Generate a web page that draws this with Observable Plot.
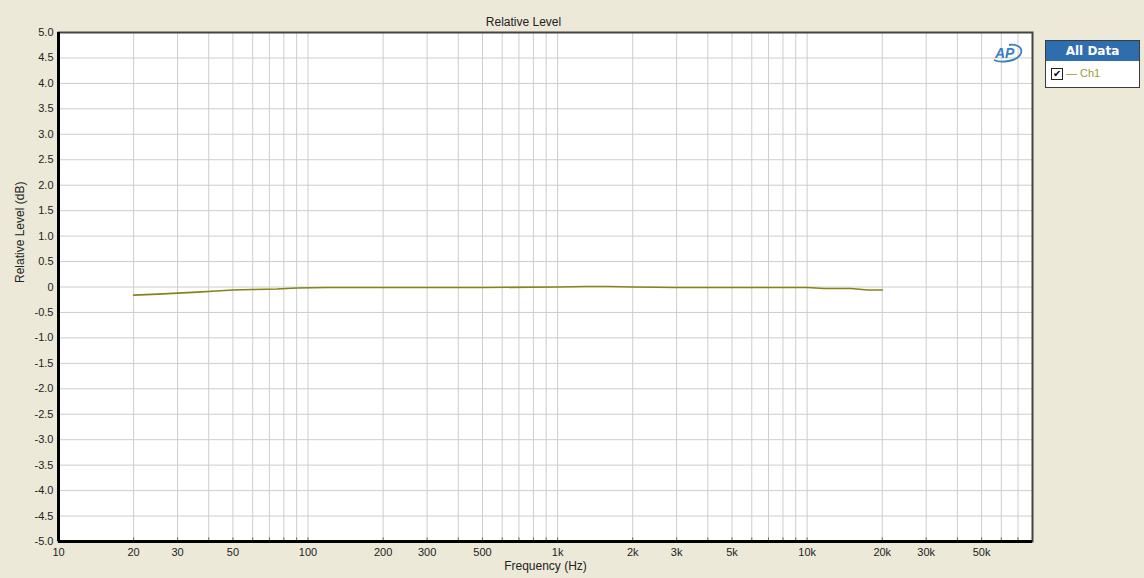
<!DOCTYPE html>
<html>
<head>
<meta charset="utf-8">
<script src="https://cdn.jsdelivr.net/npm/d3@7"></script>
<script src="https://cdn.jsdelivr.net/npm/@observablehq/plot@0.6"></script>
<style>
  html, body { margin: 0; padding: 0; background: #ECE9D8; }
  body { width: 1144px; height: 578px; position: relative; overflow: hidden; font-family: "Liberation Sans", Arial, sans-serif; }
  #chart { position: absolute; left: 0; top: 0; }
  #legend { position: absolute; left: 1045px; top: 40px; width: 93px; height: 46px; background: #fff; border: 1px solid #3c3c3c; box-sizing: content-box; }
  #legend .hdr { background: #2f6eae; color: #fff; font-family: Verdana, "DejaVu Sans", sans-serif; font-weight: bold; font-size: 12px; text-align: center; height: 20px; line-height: 20px; }
  #legend .row { position: relative; height: 26px; }
  #legend .cb { position: absolute; left: 5px; top: 7px; width: 10px; height: 10px; border: 1px solid #222; background: #fff; font-size: 10px; line-height: 10px; text-align: center; color: #000; }
  #legend .lbl { position: absolute; left: 20px; top: 6px; font-size: 11px; color: #9a9a30; font-family: "Liberation Sans", Arial, sans-serif; }
  #logo { position: absolute; left: 990px; top: 43px; }
</style>
</head>
<body>
<div id="chart"></div>
<svg id="logo" width="34" height="20" viewBox="0 0 34 20">
  <path d="M4 17 C 10 20, 28 19, 31 10 C 33 3, 24 1, 19 2" fill="none" stroke="#3a7fc0" stroke-width="1.8"/>
  <text x="5" y="15" font-family="Liberation Sans, Arial" font-style="italic" font-weight="bold" font-size="14" fill="#3a7fc0">AP</text>
</svg>
<div id="legend">
  <div class="hdr">All Data</div>
  <div class="row"><div class="cb">✔</div><div class="lbl">— Ch1</div></div>
</div>
<script>
// Data
const freqs  = [20, 25, 30, 36, 43, 50, 60, 75, 90, 120, 200, 500, 1000, 1300, 1600, 2000, 3000, 5000, 10000, 11700, 15000, 17500, 20000];
const levels = [-0.16, -0.14, -0.12, -0.10, -0.08, -0.06, -0.05, -0.04, -0.02, -0.01, -0.01, -0.01, 0.0, 0.01, 0.01, 0.0, -0.01, -0.01, -0.01, -0.03, -0.03, -0.06, -0.06];

const xTickValues = [10, 20, 30, 50, 100, 200, 300, 500, 1000, 2000, 3000, 5000, 10000, 20000, 30000, 50000];
const xTickLabels = ["10", "20", "30", "50", "100", "200", "300", "500", "1k", "2k", "3k", "5k", "10k", "20k", "30k", "50k"];
const yTickValues = [5, 4.5, 4, 3.5, 3, 2.5, 2, 1.5, 1, 0.5, 0, -0.5, -1, -1.5, -2, -2.5, -3, -3.5, -4, -4.5, -5];
const yTickLabels = ["5.0", "4.5", "4.0", "3.5", "3.0", "2.5", "2.0", "1.5", "1.0", "0.5", "0", "-0.5", "-1.0", "-1.5", "-2.0", "-2.5", "-3.0", "-3.5", "-4.0", "-4.5", "-5.0"];

const title = "Relative Level";
const xLabel = "Frequency (Hz)";
const yLabel = "Relative Level (dB)";

// grid frequencies (1-9 per decade) up to 80k
const gridFreqs = [];
for (let d = 10; d <= 10000; d *= 10) for (let m = 1; m <= 9; m++) if (m * d <= 80000) gridFreqs.push(m * d);

const data = freqs.map((f, i) => ({f, v: levels[i]}));
const xTicks = xTickValues.map((v, i) => ({v, t: xTickLabels[i]}));
const yTicks = yTickValues.map((v, i) => ({v, t: yTickLabels[i]}));

const chart = Plot.plot({
  width: 1144,
  height: 578,
  marginLeft: 58,
  marginRight: 112,
  marginTop: 32,
  marginBottom: 37,
  style: { background: "transparent", fontFamily: "Liberation Sans, Arial, sans-serif", fontSize: "11px", color: "#222" },
  x: { type: "log", domain: [10, 80000], axis: null },
  y: { domain: [-5, 5], axis: null },
  marks: [
    Plot.frame({ fill: "#fff", stroke: null }),
    Plot.ruleX(gridFreqs, { stroke: "#cdcdcd", strokeWidth: 1 }),
    Plot.ruleY(yTickValues, { stroke: "#cdcdcd", strokeWidth: 1 }),
    Plot.ruleX(gridFreqs, { y1: -5, y2: -4.93, stroke: "#666", strokeWidth: 1 }),
    Plot.line(data, { x: "f", y: "v", stroke: "#84841a", strokeWidth: 1.6 }),
    Plot.frame({ stroke: "#444", strokeWidth: 2 }),
    Plot.ruleX([10], { stroke: "#000", strokeWidth: 3 }),
    Plot.ruleY([-5], { stroke: "#000", strokeWidth: 3 }),
    Plot.text(xTicks, { x: "v", text: "t", frameAnchor: "bottom", lineAnchor: "top", dy: 7, fontSize: 11, fill: "#222" }),
    Plot.text(yTicks, { y: "v", text: "t", frameAnchor: "left", textAnchor: "end", dx: -5, fontSize: 11, fill: "#222" }),
    Plot.text([title], { frameAnchor: "top", dy: -15, dx: -22, fontSize: 12, fill: "#222" }),
    Plot.text([xLabel], { frameAnchor: "bottom", dy: 28, fontSize: 12, fill: "#222" }),
    Plot.text([yLabel], { frameAnchor: "left", rotate: -90, dx: -38, dy: -4, fontSize: 12, fill: "#222" })
  ]
});
document.getElementById("chart").appendChild(chart);
</script>
</body>
</html>
